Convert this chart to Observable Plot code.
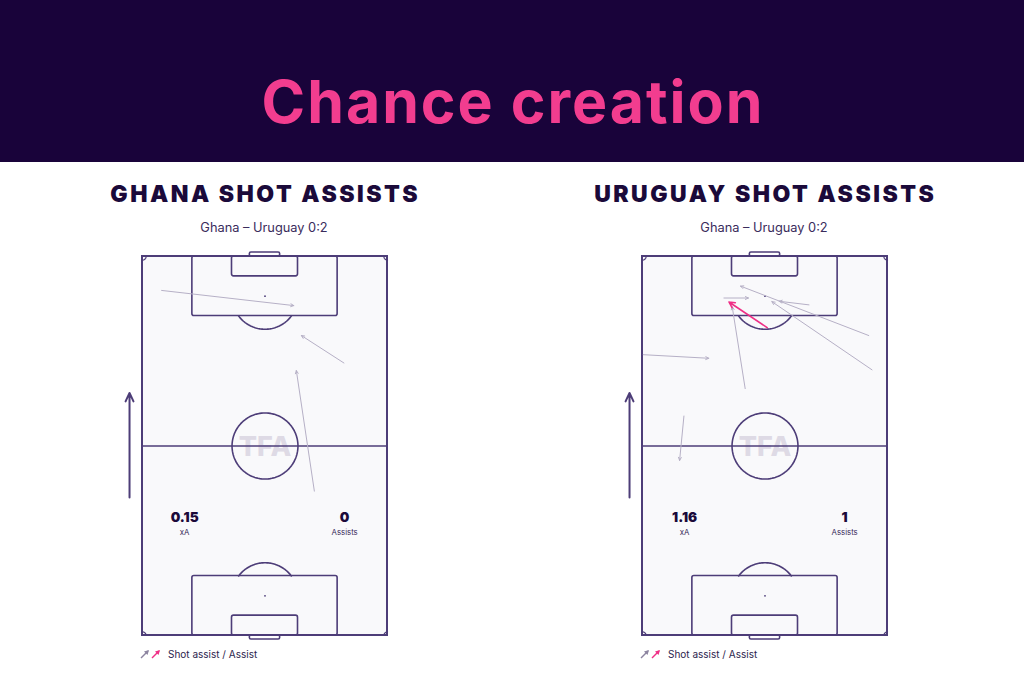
<!DOCTYPE html>
<html>
<head>
<meta charset="utf-8">
<script src="https://cdn.jsdelivr.net/npm/d3@7"></script>
<script src="https://cdn.jsdelivr.net/npm/@observablehq/plot@0.6"></script>
<style>
  html, body { margin: 0; padding: 0; background: #ffffff; }
  body { width: 1024px; height: 683px; position: relative; overflow: hidden; font-family: Inter, "Noto Sans", sans-serif; }
  #header { position: absolute; left: 0; top: 0; width: 1024px; height: 162px; background: #19033a; }
  #header h1 { position: absolute; left: 0; width: 1024px; top: 62px; margin: 0; text-align: center;
    color: #f23d8f; font-family: Inter, sans-serif; font-weight: 700; font-size: 59px; line-height: 80px; letter-spacing: 2px; text-indent: 2px; }
  .ptitle { position: absolute; width: 420px; text-align: center; margin: 0; color: #1b0a3a;
    font-family: Inter, sans-serif; font-weight: 900; font-size: 23px; letter-spacing: 2.5px; text-indent: 2.5px; line-height: 26px; }
  .psub { position: absolute; width: 420px; text-align: center; margin: 0; color: #3a2c5c; font-size: 12.8px; line-height: 16px; }
  .chart { position: absolute; top: 245px; }
  .legend { position: absolute; top: 647px; font-size: 10px; color: #2c1e4d; display: flex; align-items: center; gap: 2px; }
  .legend svg { display: block; }
</style>
</head>
<body>
<div id="header"><h1>Chance creation</h1></div>

<div class="ptitle" style="left:54px; top:181px;">GHANA SHOT ASSISTS</div>
<div class="psub" style="left:54px; top:220px;">Ghana – Uruguay 0:2</div>
<div class="ptitle" style="left:554px; top:181px;">URUGUAY SHOT ASSISTS</div>
<div class="psub" style="left:554px; top:220px;">Ghana – Uruguay 0:2</div>

<div id="left" class="chart" style="left:100px;"></div>
<div id="right" class="chart" style="left:600px;"></div>

<div class="legend" style="left:138px;">
  <svg width="26" height="14" viewBox="0 0 26 14">
    <line x1="3" y1="11" x2="10" y2="4" stroke="#8c84a0" stroke-width="1.5"/><path d="M11,3 L6,4.5 L9.5,8 Z" fill="#8c84a0"/>
    <line x1="14" y1="11" x2="21" y2="4" stroke="#ef2f86" stroke-width="1.5"/><path d="M22,3 L17,4.5 L20.5,8 Z" fill="#ef2f86"/>
  </svg>
  <span style="margin-left:2px">Shot assist / Assist</span>
</div>
<div class="legend" style="left:638px;">
  <svg width="26" height="14" viewBox="0 0 26 14">
    <line x1="3" y1="11" x2="10" y2="4" stroke="#8c84a0" stroke-width="1.5"/><path d="M11,3 L6,4.5 L9.5,8 Z" fill="#8c84a0"/>
    <line x1="14" y1="11" x2="21" y2="4" stroke="#ef2f86" stroke-width="1.5"/><path d="M22,3 L17,4.5 L20.5,8 Z" fill="#ef2f86"/>
  </svg>
  <span style="margin-left:2px">Shot assist / Assist</span>
</div>

<script>
// ---- Data (pitch metres: x 0..68 across, y 0..105 towards the attacked goal) ----
const ghanaPasses = [
  { x1: 5.3,  y1: 95.6, x2: 42.0, y2: 91.4, type: "Shot assist" },
  { x1: 55.9, y1: 75.5, x2: 44.1, y2: 83.1, type: "Shot assist" },
  { x1: 47.7, y1: 40.0, x2: 42.7, y2: 73.4, type: "Shot assist" }
];
const uruguayPasses = [
  { x1: 22.6, y1: 93.5, x2: 29.4, y2: 93.5, type: "Shot assist" },
  { x1: 28.5, y1: 68.4, x2: 24.9, y2: 91.1, type: "Shot assist" },
  { x1: 62.8, y1: 83.1, x2: 27.2, y2: 96.8, type: "Shot assist" },
  { x1: 63.7, y1: 73.6, x2: 35.9, y2: 92.5, type: "Shot assist" },
  { x1: 46.2, y1: 91.6, x2: 37.9, y2: 92.6, type: "Shot assist" },
  { x1: 0.2,  y1: 77.8, x2: 18.4, y2: 76.8, type: "Shot assist" },
  { x1: 11.5, y1: 60.8, x2: 10.3, y2: 48.5, type: "Shot assist" },
  { x1: 34.6, y1: 85.3, x2: 24.0, y2: 92.4, type: "Assist" }
];
const ghanaStats = [ { label: "xA", value: "0.15" }, { label: "Assists", value: "0" } ];
const uruguayStats = [ { label: "xA", value: "1.16" }, { label: "Assists", value: "1" } ];

// ---- Pitch geometry (standard dimensions) ----
const L = 105, W = 68;
const LINE = "#4d3d78";
const cx = W / 2;

function arc(x0, y0, r, a0, a1, n = 60) {
  const pts = [];
  for (let i = 0; i <= n; i++) {
    const a = a0 + (a1 - a0) * i / n;
    pts.push({ x: x0 + r * Math.cos(a), y: y0 + r * Math.sin(a) });
  }
  return pts;
}
const dAng = Math.acos((16.5 - 11) / 9.15);
const topArc = arc(cx, L - 11, 9.15, -Math.PI / 2 - dAng, -Math.PI / 2 + dAng);
const botArc = arc(cx, 11, 9.15, Math.PI / 2 - dAng, Math.PI / 2 + dAng);
const centreCircle = arc(cx, L / 2, 9.15, 0, 2 * Math.PI, 120);
const cornerArcs = [
  arc(0, 0, 1, 0, Math.PI / 2, 12),
  arc(W, 0, 1, Math.PI / 2, Math.PI, 12),
  arc(0, L, 1, -Math.PI / 2, 0, 12),
  arc(W, L, 1, Math.PI, 1.5 * Math.PI, 12)
];

function pitch(passes, stats) {
  const shot = passes.filter(d => d.type === "Shot assist");
  const assist = passes.filter(d => d.type === "Assist");
  const statX = [11.7, 56.1];
  const statRows = stats.map((d, i) => ({ ...d, x: statX[i] }));
  return Plot.plot({
    width: 320, height: 400,
    marginLeft: 42, marginRight: 33, marginTop: 11, marginBottom: 10,
    x: { domain: [0, W], axis: null },
    y: { domain: [0, L], axis: null },
    style: { overflow: "visible", background: "transparent" },
    marks: [
      Plot.rect([0], { x1: 0, x2: W, y1: 0, y2: L, fill: "#f9f9fb", stroke: LINE, strokeWidth: 2 }),
      Plot.text(["TFA"], { x: cx, y: L / 2 - 0.5, text: d => d, fontSize: 27, fontWeight: 800,
        fill: "#dedae5", fontFamily: "Inter, sans-serif", letterSpacing: 1 }),
      Plot.ruleY([L / 2], { x1: 0, x2: W, stroke: LINE, strokeWidth: 1.6 }),
      Plot.line(centreCircle, { x: "x", y: "y", stroke: LINE, strokeWidth: 1.6 }),
      Plot.rect([0], { x1: cx - 20.16, x2: cx + 20.16, y1: L - 16.5, y2: L, fill: "none", stroke: LINE, strokeWidth: 1.6, rx: 2 }),
      Plot.rect([0], { x1: cx - 20.16, x2: cx + 20.16, y1: 0, y2: 16.5, fill: "none", stroke: LINE, strokeWidth: 1.6, rx: 2 }),
      Plot.rect([0], { x1: cx - 9.16, x2: cx + 9.16, y1: L - 5.5, y2: L, fill: "none", stroke: LINE, strokeWidth: 1.6, rx: 2 }),
      Plot.rect([0], { x1: cx - 9.16, x2: cx + 9.16, y1: 0, y2: 5.5, fill: "none", stroke: LINE, strokeWidth: 1.6, rx: 2 }),
      Plot.rect([0], { x1: cx - 4.2, x2: cx + 4.2, y1: L, y2: L + 1.1, fill: "none", stroke: LINE, strokeWidth: 1.6, rx: 1.5 }),
      Plot.rect([0], { x1: cx - 4.2, x2: cx + 4.2, y1: -1.1, y2: 0, fill: "none", stroke: LINE, strokeWidth: 1.6, rx: 1.5 }),
      Plot.line(topArc, { x: "x", y: "y", stroke: LINE, strokeWidth: 1.6 }),
      Plot.line(botArc, { x: "x", y: "y", stroke: LINE, strokeWidth: 1.6 }),
      ...cornerArcs.map(a => Plot.line(a, { x: "x", y: "y", stroke: LINE, strokeWidth: 1.2 })),
      Plot.dot([[cx, L - 11], [cx, 11]], { x: d => d[0], y: d => d[1], r: 0.9, fill: LINE, stroke: null }),
      Plot.arrow([0], { x1: -3.6, y1: 38.2, x2: -3.6, y2: 67.2, stroke: LINE, strokeWidth: 2, headLength: 7, headAngle: 50 }),
      Plot.arrow(shot, { x1: "x1", y1: "y1", x2: "x2", y2: "y2", stroke: "#b6b0c6", strokeWidth: 1, headLength: 5, headAngle: 50 }),
      Plot.arrow(assist, { x1: "x1", y1: "y1", x2: "x2", y2: "y2", stroke: "#ef2f86", strokeWidth: 1.6, headLength: 6, headAngle: 55 }),
      Plot.text(statRows, { x: "x", y: 32.6, text: "value", fontSize: 13.5, fontWeight: 900, fill: "#1b0a3a", fontFamily: "Inter, sans-serif", letterSpacing: 0.3 }),
      Plot.text(statRows, { x: "x", y: 28.4, text: "label", fontSize: 7.8, fill: "#3a2c5c", fontFamily: "Inter, sans-serif" })
    ]
  });
}

document.getElementById("left").append(pitch(ghanaPasses, ghanaStats));
document.getElementById("right").append(pitch(uruguayPasses, uruguayStats));
</script>
</body>
</html>
